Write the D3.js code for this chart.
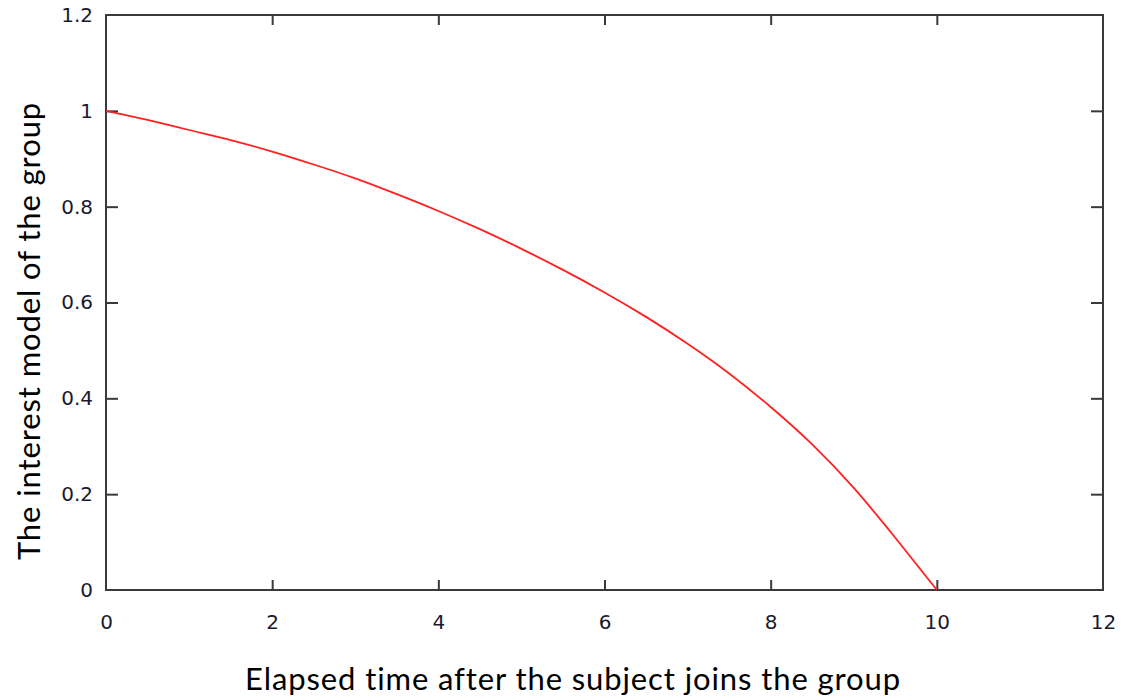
<!DOCTYPE html>
<html>
<head>
<meta charset="utf-8">
<script src="https://cdn.jsdelivr.net/npm/d3@7"></script>
<style>
html,body{margin:0;padding:0;background:#fff;}
svg{display:block;}
</style>
</head>
<body>
<svg id="chart" width="1125" height="700"></svg>
<script>
// Data
const timeValues = [0, 0.5, 1, 1.5, 2, 2.5, 3, 3.5, 4, 4.5, 5, 5.5, 6, 6.5, 7, 7.5, 8, 8.5, 9, 9.5, 10];
const interestValues = [1.0, 0.981, 0.960, 0.939, 0.915, 0.888, 0.859, 0.826, 0.791, 0.753, 0.712, 0.668, 0.621, 0.570, 0.514, 0.452, 0.382, 0.304, 0.213, 0.109, 0.0];
const xTicks = [0, 2, 4, 6, 8, 10, 12];
const yTicks = [0, 0.2, 0.4, 0.6, 0.8, 1, 1.2];
const xTitle = "Elapsed time after the subject joins the group";
const yTitle = "The interest model of the group";

(function () {
const svg = d3.select("#chart");
const mLeft = 106, mRight = 1103, mTop = 15, mBottom = 590;

const x = d3.scaleLinear().domain([0, 12]).range([mLeft, mRight]);
const y = d3.scaleLinear().domain([0, 1.2]).range([mBottom, mTop]);

const tickFont = "'DejaVu Sans', Verdana, sans-serif";
const frameColor = "#3a3a3a";

// frame
svg.append("rect")
  .attr("x", mLeft).attr("y", mTop)
  .attr("width", mRight - mLeft).attr("height", mBottom - mTop)
  .attr("fill", "none").attr("stroke", frameColor).attr("stroke-width", 2);

function styleAxis(g) {
  g.select(".domain").remove();
  g.selectAll(".tick line").attr("stroke", frameColor).attr("stroke-width", 2);
  g.selectAll(".tick text").attr("fill", "#1a1a2e")
    .style("font-family", tickFont).style("font-size", "20px");
}
const fmt = d => d3.format("~g")(d);

svg.append("g").attr("transform", `translate(0,${mBottom})`)
  .call(d3.axisBottom(x).tickValues(xTicks).tickFormat(fmt).tickSizeInner(-10).tickSizeOuter(0).tickPadding(25))
  .call(styleAxis)
  .call(g => g.selectAll(".tick").filter(d => d === 0 || d === 12).select("line").remove());

svg.append("g").attr("transform", `translate(0,${mTop})`)
  .call(d3.axisTop(x).tickValues(xTicks).tickFormat("").tickSizeInner(-10).tickSizeOuter(0))
  .call(styleAxis)
  .call(g => g.selectAll(".tick").filter(d => d === 0 || d === 12).select("line").remove());

svg.append("g").attr("transform", `translate(${mLeft},0)`)
  .call(d3.axisLeft(y).tickValues(yTicks).tickFormat(fmt).tickSizeInner(-12).tickSizeOuter(0).tickPadding(13))
  .call(styleAxis)
  .call(g => g.selectAll(".tick").filter(d => d === 0 || d === 1.2).select("line").remove());

svg.append("g").attr("transform", `translate(${mRight},0)`)
  .call(d3.axisRight(y).tickValues(yTicks).tickFormat("").tickSizeInner(-12).tickSizeOuter(0))
  .call(styleAxis)
  .call(g => g.selectAll(".tick").filter(d => d === 0 || d === 1.2).select("line").remove());

// curve
const pts = timeValues.map((t, i) => [t, interestValues[i]]);
svg.append("path")
  .datum(pts)
  .attr("fill", "none")
  .attr("stroke", "#ff2020")
  .attr("stroke-width", 1.8)
  .attr("d", d3.line().x(d => x(d[0])).y(d => y(d[1])).curve(d3.curveNatural));

// titles
const titleFont = "Lato, 'Open Sans', sans-serif";
svg.append("text")
  .attr("x", 573).attr("y", 690)
  .attr("text-anchor", "middle")
  .style("font-family", titleFont).style("font-size", "31px").style("letter-spacing", "0.9px")
  .attr("fill", "#000")
  .text(xTitle);

svg.append("text")
  .attr("transform", "translate(40,331) rotate(-90)")
  .attr("text-anchor", "middle")
  .style("font-family", titleFont).style("font-size", "31px").style("letter-spacing", "0.9px")
  .attr("fill", "#000")
  .text(yTitle);
})();
</script>
</body>
</html>
